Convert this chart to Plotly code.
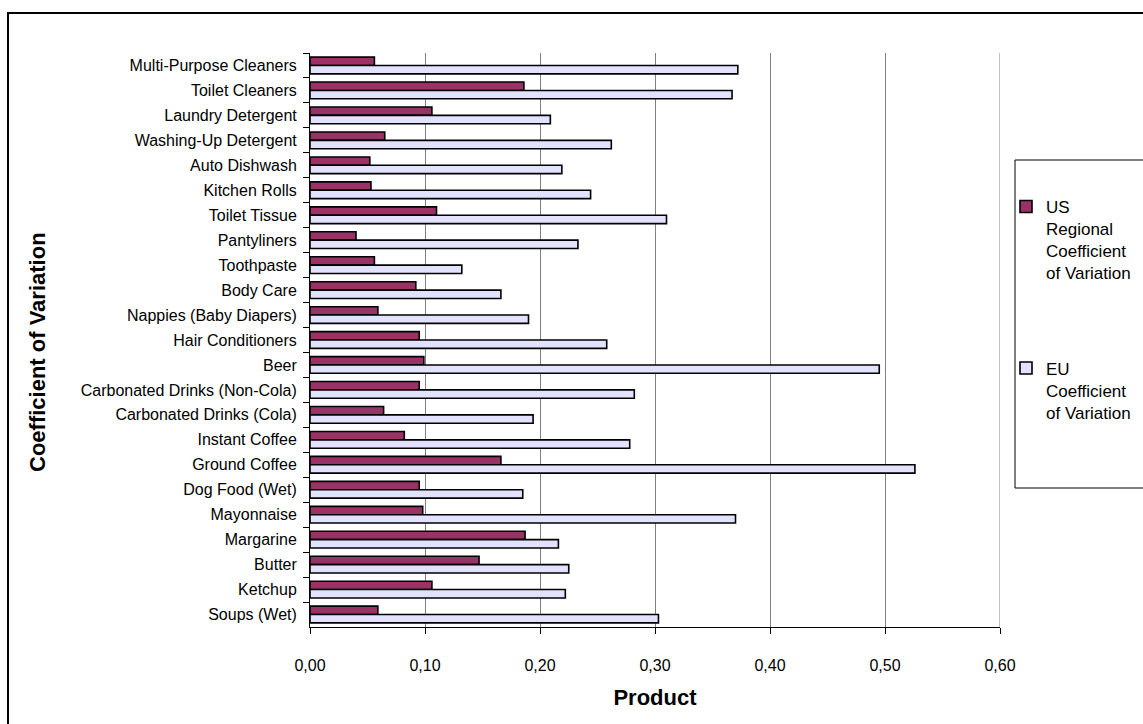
import plotly.graph_objects as go

# Products, listed top to bottom as they appear on the chart
products = [
    "Multi-Purpose Cleaners", "Toilet Cleaners", "Laundry Detergent",
    "Washing-Up Detergent", "Auto Dishwash", "Kitchen Rolls", "Toilet Tissue",
    "Pantyliners", "Toothpaste", "Body Care", "Nappies (Baby Diapers)",
    "Hair Conditioners", "Beer", "Carbonated Drinks (Non-Cola)",
    "Carbonated Drinks (Cola)", "Instant Coffee", "Ground Coffee",
    "Dog Food (Wet)", "Mayonnaise", "Margarine", "Butter", "Ketchup",
    "Soups (Wet)",
]

# Coefficient of variation, US regional vs EU
us_cv = [0.056, 0.186, 0.106, 0.065, 0.052, 0.053, 0.110, 0.040, 0.056,
         0.092, 0.059, 0.095, 0.099, 0.095, 0.064, 0.082, 0.166, 0.095,
         0.098, 0.187, 0.147, 0.106, 0.059]
eu_cv = [0.372, 0.367, 0.209, 0.262, 0.219, 0.244, 0.310, 0.233, 0.132,
         0.166, 0.190, 0.258, 0.495, 0.282, 0.194, 0.278, 0.526, 0.185,
         0.370, 0.216, 0.225, 0.222, 0.303]

x_ticks = [0.0, 0.1, 0.2, 0.3, 0.4, 0.5, 0.6]

FONT = "Liberation Sans, Arial, sans-serif"
W, H = 1143, 724
L, R, T, B = 310, 143, 53, 97
PW, PH = W - L - R, H - T - B


def px_x(px):
    return (px - L) / PW


def px_y(py):
    return (H - B - py) / PH


fig = go.Figure()
fig.add_trace(go.Bar(
    y=products, x=us_cv, orientation="h",
    name="US<br>Regional<br>Coefficient<br>of Variation",
    legendgroup="us",
    marker=dict(color="#993366", line=dict(color="#000000", width=1.6)),
))
fig.add_trace(go.Bar(
    y=products, x=eu_cv, orientation="h",
    name="EU<br>Coefficient<br>of Variation",
    legendgroup="eu",
    marker=dict(color="#E2E2FF", line=dict(color="#000000", width=1.6)),
))

shapes = [
    # outer chart frame
    dict(type="rect", xref="paper", yref="paper",
         x0=px_x(8), x1=px_x(1160), y0=px_y(740), y1=px_y(13),
         line=dict(color="#000000", width=2), fillcolor="rgba(0,0,0,0)",
         layer="below"),
    # legend frame
    dict(type="rect", xref="paper", yref="paper",
         x0=px_x(1015), x1=px_x(1160), y0=px_y(488), y1=px_y(160),
         line=dict(color="#000000", width=1), fillcolor="rgba(0,0,0,0)"),
    # gridline on the last tick, at the right edge of the plot area
    dict(type="line", xref="x", yref="paper",
         x0=x_ticks[-1], x1=x_ticks[-1], y0=0, y1=1,
         line=dict(color="#808080", width=1), layer="below"),
]

fig.update_layout(
    width=W, height=H,
    margin=dict(l=L, r=R, t=T, b=B, autoexpand=False),
    paper_bgcolor="#FFFFFF", plot_bgcolor="#FFFFFF",
    font=dict(family=FONT, color="#000000", size=16),
    barmode="group", bargap=0.33, bargroupgap=0.0,
    separators=", ",
    showlegend=True,
    legend=dict(
        x=px_x(1006), y=px_y(189), xanchor="left", yanchor="top",
        traceorder="grouped", valign="top",
        font=dict(family=FONT, size=17, color="#000000"),
        bgcolor="rgba(0,0,0,0)", borderwidth=0,
        tracegroupgap=70,
    ),
    xaxis=dict(
        range=[0, 0.6], tickvals=x_ticks, tickformat=".2f",
        showgrid=True, gridcolor="#808080", gridwidth=1,
        zeroline=False,
        showline=True, linecolor="#000000", linewidth=1,
        ticks="outside", ticklen=6, tickcolor="#000000",
        tickfont=dict(family=FONT, size=16, color="#000000"),
        ticklabelstandoff=18,
        title=dict(text="<b>Product</b>", standoff=16,
                   font=dict(family=FONT, size=22, color="#000000")),
    ),
    yaxis=dict(
        categoryorder="array", categoryarray=products,
        autorange="reversed",
        showgrid=False, zeroline=False,
        showline=True, linecolor="#000000", linewidth=1,
        ticks="outside", ticklen=6, tickcolor="#000000",
        tickson="boundaries",
        tickfont=dict(family=FONT, size=16, color="#000000"),
        ticklabelstandoff=9,
    ),
    shapes=shapes,
    annotations=[
        dict(text="<b>Coefficient of Variation</b>", textangle=-90,
             xref="paper", yref="paper", x=px_x(37), y=px_y(352),
             xanchor="center", yanchor="middle", showarrow=False,
             font=dict(family=FONT, size=22, color="#000000")),
    ],
)

fig.write_html("out.html")
